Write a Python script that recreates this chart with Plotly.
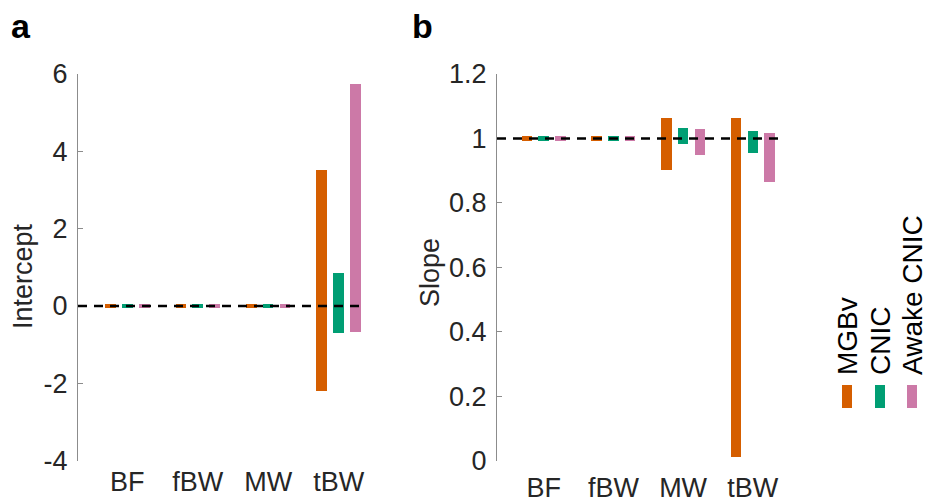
import plotly.graph_objects as go

# ---------------- data ----------------
categories = ["BF", "fBW", "MW", "tBW"]
groups = ["MGBv", "CNIC", "Awake CNIC"]
colors = ["#D55E00", "#009E73", "#CC79A7"]

# Intercept ranges (panel a)
int_mgbv_low = [-0.055, -0.055, -0.055, -2.19]
int_mgbv_high = [0.055, 0.055, 0.055, 3.52]
int_cnic_low = [-0.045, -0.045, -0.045, -0.69]
int_cnic_high = [0.045, 0.045, 0.045, 0.85]
int_awake_low = [-0.055, -0.055, -0.055, -0.67]
int_awake_high = [0.055, 0.055, 0.055, 5.75]

# Slope ranges (panel b)
slope_mgbv_low = [0.993, 0.993, 0.901, 0.010]
slope_mgbv_high = [1.007, 1.007, 1.064, 1.063]
slope_cnic_low = [0.993, 0.993, 0.983, 0.956]
slope_cnic_high = [1.007, 1.007, 1.032, 1.023]
slope_awake_low = [0.993, 0.993, 0.949, 0.866]
slope_awake_high = [1.007, 1.007, 1.029, 1.016]

int_ticks = [-4, -2, 0, 2, 4, 6]
int_ticktext = ["-4", "-2", "0", "2", "4", "6"]
slope_ticks = [0, 0.2, 0.4, 0.6, 0.8, 1.0, 1.2]
slope_ticktext = ["0", "0.2", "0.4", "0.6", "0.8", "1", "1.2"]

# ---------------- figure ----------------
W, H = 927, 503
FONT = "Liberation Sans, Arial, Helvetica, sans-serif"
TXT = "#262626"
AX = "#8c8c8c"
offsets = [-0.24, 0.0, 0.24]
bar_w = 0.15

fig = go.Figure()

int_sets = [(int_mgbv_low, int_mgbv_high), (int_cnic_low, int_cnic_high),
            (int_awake_low, int_awake_high)]
slope_sets = [(slope_mgbv_low, slope_mgbv_high), (slope_cnic_low, slope_cnic_high),
              (slope_awake_low, slope_awake_high)]

for axes, sets in (("x1", int_sets), ("x2", slope_sets)):
    for gi, (lo, hi) in enumerate(sets):
        xs = [i + 1 + offsets[gi] for i in range(len(categories))]
        fig.add_trace(go.Bar(
            x=xs, y=[h - l for l, h in zip(lo, hi)], base=lo,
            width=bar_w, marker=dict(color=colors[gi], line=dict(width=0)),
            name=groups[gi], showlegend=False,
            xaxis="x" if axes == "x1" else "x2",
            yaxis="y" if axes == "x1" else "y2",
        ))

def px_x(p):
    return p / W

def px_y(p):
    return 1 - p / H

dom_a = [px_x(78), px_x(364)]
dom_b = [px_x(497), px_x(780)]
dom_y = [px_y(460.5), px_y(74)]

common_x = dict(showline=False, ticks="", showgrid=False, zeroline=False,
                automargin=False,
                tickmode="array", tickvals=[1, 2, 3, 4], ticktext=categories,
                tickfont=dict(family=FONT, size=27, color=TXT))
common_y = dict(showline=True, linecolor=AX, linewidth=1, ticks="inside",
                ticklen=5, tickcolor=AX, tickwidth=1, showgrid=False,
                zeroline=False, tickmode="array", automargin=False,
                tickfont=dict(family=FONT, size=27, color=TXT))

fig.update_layout(
    width=W, height=H,
    margin=dict(l=0, r=0, t=0, b=0, autoexpand=False),
    paper_bgcolor="white", plot_bgcolor="white",
    barmode="overlay", bargap=0,
    showlegend=False,
    xaxis=dict(domain=dom_a, range=[0.3, 4.36], anchor="y",
               ticklabelstandoff=2, **common_x),
    xaxis2=dict(domain=dom_b, range=[0.33, 4.39], anchor="y2",
                ticklabelstandoff=8, **common_x),
    yaxis=dict(domain=dom_y, range=[-4, 6], anchor="x",
               tickvals=int_ticks, ticktext=int_ticktext,
               ticklabelstandoff=4, **common_y),
    yaxis2=dict(domain=dom_y, range=[0, 1.2], anchor="x2",
                tickvals=slope_ticks, ticktext=slope_ticktext,
                ticklabelstandoff=4, **common_y),
)

# reference dashed lines
fig.add_shape(type="line", xref="x domain", yref="y", x0=0, x1=1, y0=0, y1=0,
              line=dict(color="black", width=2.5, dash="9px,7px"), layer="above")
fig.add_shape(type="line", xref="x2 domain", yref="y2", x0=0, x1=1, y0=1, y1=1,
              line=dict(color="black", width=2.5, dash="9px,7px"), layer="above")

# axis titles
fig.add_annotation(text="Intercept", xref="paper", yref="paper",
                   x=px_x(23), y=px_y(276), textangle=-90, showarrow=False,
                   xanchor="center", yanchor="middle",
                   font=dict(family=FONT, size=27, color=TXT))
fig.add_annotation(text="Slope", xref="paper", yref="paper",
                   x=px_x(430), y=px_y(273), textangle=-90, showarrow=False,
                   xanchor="center", yanchor="middle",
                   font=dict(family=FONT, size=27, color=TXT))

# panel labels
for lbl, xc in (("a", 21), ("b", 422)):
    fig.add_annotation(text="<b>%s</b>" % lbl, xref="paper", yref="paper",
                       x=px_x(xc), y=px_y(26), showarrow=False,
                       xanchor="center", yanchor="middle",
                       font=dict(family=FONT, size=34, color="black"))

# legend (rotated text + colour patches)
leg_x = [847, 880, 912]
for name, col, xc in zip(groups, colors, leg_x):
    fig.add_annotation(text=name, xref="paper", yref="paper",
                       x=px_x(xc), y=px_y(377), textangle=-90, showarrow=False,
                       xanchor="center", yanchor="bottom",
                       font=dict(family=FONT, size=28, color="black"))
    fig.add_shape(type="rect", xref="paper", yref="paper",
                  x0=px_x(xc - 5), x1=px_x(xc + 5),
                  y0=px_y(408), y1=px_y(385),
                  fillcolor=col, line=dict(width=0))

fig.write_html("out.html")
